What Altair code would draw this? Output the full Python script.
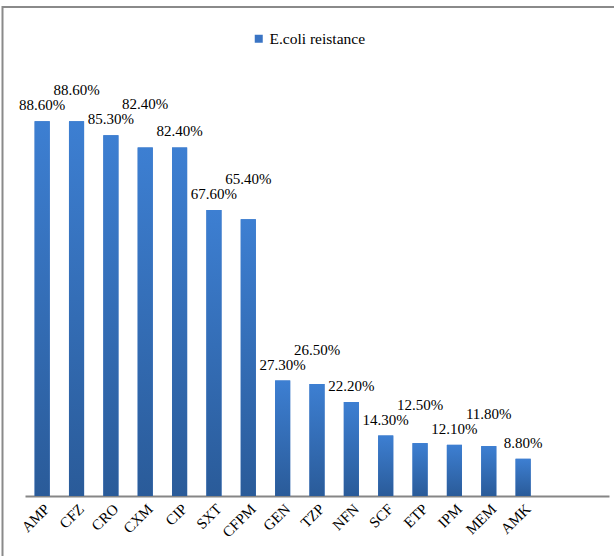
import altair as alt
import pandas as pd

categories = ["AMP", "CFZ", "CRO", "CXM", "CIP", "SXT", "CFPM", "GEN",
              "TZP", "NFN", "SCF", "ETP", "IPM", "MEM", "AMK"]
values = [88.6, 88.6, 85.3, 82.4, 82.4, 67.6, 65.4, 27.3,
          26.5, 22.2, 14.3, 12.5, 12.1, 11.8, 8.8]
series_name = "E.coli reistance"

PLOT_W, PLOT_H = 584, 423
Y_MAX = 100
FONT = "Liberation Serif"

# simple label collision avoidance (left to right), done in data units
px_per_unit = PLOT_H / Y_MAX
gap_px, h_px = 16, 15
label_pos = []
for i, v in enumerate(values):
    p = v * px_per_unit + gap_px
    if i > 0 and abs(p - label_pos[-1]) < h_px:
        p = label_pos[-1] + h_px
    label_pos.append(p)
label_y = [p / px_per_unit for p in label_pos]

df = pd.DataFrame({"drug": categories, "value": values, "label_y": label_y,
                   "series": series_name})

x_domain = categories + [" ", "  "]

x_enc = alt.X("drug:N", sort=None,
              scale=alt.Scale(domain=x_domain, paddingInner=0.56, paddingOuter=0.28),
              axis=alt.Axis(title=None, labelAngle=-45, ticks=False, domainColor="#868686",
                            domainWidth=2, labelFont=FONT, labelFontSize=15,
                            labelColor="black", labelPadding=5))
y_scale = alt.Scale(domain=[0, Y_MAX])
y_enc = alt.Y("value:Q", scale=y_scale, axis=None)

base = alt.Chart(df)

legend_bars = base.mark_bar().encode(
    x=x_enc, y=y_enc,
    color=alt.Color("series:N", scale=alt.Scale(range=["#3a74c4"]),
                    legend=alt.Legend(title=None, orient="none", legendX=226, legendY=-42,
                                      symbolType="square", symbolSize=64,
                                      labelFont=FONT, labelFontSize=15.5,
                                      labelColor="black", symbolStrokeWidth=0,
                                      labelOffset=3))
)

grad = alt.Gradient(gradient="linear",
                    stops=[alt.GradientStop(color="#3d7fd2", offset=0),
                           alt.GradientStop(color="#2a5b99", offset=1)],
                    x1=0, x2=0, y1=0, y2=1)

bars = base.mark_bar(color=grad).encode(x=x_enc, y=y_enc)

labels = base.transform_calculate(
    label="format(datum.value, '.2f') + '%'"
).mark_text(baseline="middle", font=FONT, fontSize=15, color="black").encode(
    x=x_enc, y=alt.Y("label_y:Q", scale=y_scale, axis=None), text="label:N"
)

border_top = alt.Chart(pd.DataFrame({"a": [0]})).mark_rule(color="#8a8a8a", strokeWidth=2).encode(
    x=alt.value(-23), x2=alt.value(589), y=alt.value(-66)
)
border_left = alt.Chart(pd.DataFrame({"a": [0]})).mark_rule(color="#8a8a8a", strokeWidth=2).encode(
    x=alt.value(-22.5), y=alt.value(-67), y2=alt.value(490)
)

chart = alt.layer(legend_bars, bars, labels, border_top, border_left).properties(
    width=PLOT_W, height=PLOT_H,
    autosize=alt.AutoSizeParams(type="none"),
    padding={"left": 25, "top": 73, "right": 5, "bottom": 60},
    background="white"
).configure_view(stroke=None)

chart.save("out.html", embed_options={"renderer": "svg", "actions": False})
